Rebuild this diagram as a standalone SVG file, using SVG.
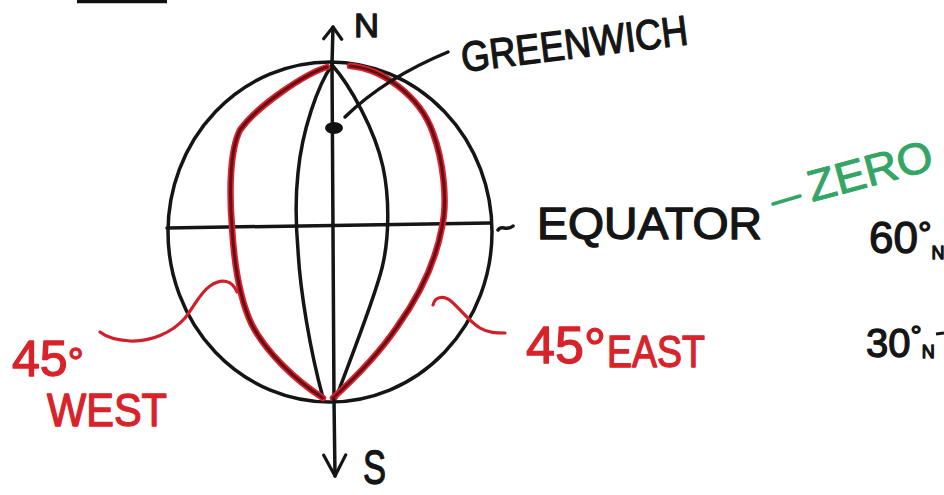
<svg xmlns="http://www.w3.org/2000/svg" width="944" height="495" viewBox="0 0 944 495">
<style>
.ink{fill:none;stroke:#151515;stroke-width:3.5;stroke-linecap:round;stroke-linejoin:round}
.redout{fill:none;stroke:#d8242e;stroke-width:6.5;stroke-linecap:round}
.redin{fill:none;stroke:#6a0e14;stroke-width:3;stroke-linecap:round}
.redlead{fill:none;stroke:#cf2029;stroke-width:3.2;stroke-linecap:round}
.t{font-family:"Liberation Sans","DejaVu Sans",sans-serif;fill:#151515;stroke:#151515;stroke-width:1.3;stroke-linejoin:round}
.tr{font-family:"Liberation Sans","DejaVu Sans",sans-serif;fill:#d8232a;stroke:#d8232a;stroke-width:1.3;stroke-linejoin:round}
.tg{font-family:"Liberation Sans","DejaVu Sans",sans-serif;fill:#35a566;stroke:#35a566;stroke-width:1;stroke-linejoin:round}
</style>
<defs>
<marker id="arrUp" markerUnits="userSpaceOnUse" viewBox="-14 -12 16 24" refX="0" refY="0" markerWidth="16" markerHeight="24" orient="auto">
<path d="M-12,-9 L0,0 L-12,9" fill="none" stroke="#151515" stroke-width="3.2" stroke-linecap="round" stroke-linejoin="round"/>
</marker>
<marker id="arrDown" markerUnits="userSpaceOnUse" viewBox="-24 -14 26 28" refX="0" refY="0" markerWidth="26" markerHeight="28" orient="auto">
<path d="M-21,-11 L0,0 L-21,11" fill="none" stroke="#151515" stroke-width="3.2" stroke-linecap="round" stroke-linejoin="round"/>
</marker>
</defs>
<rect width="944" height="495" fill="#ffffff"/>
<path d="M77,1.5 L167,1.5" stroke="#111" stroke-width="3.5"/>

<g id="globe">
<ellipse class="ink" cx="330" cy="232" rx="162" ry="170"/>
<path class="ink" d="M167,228 L490,223"/>
<path class="ink" d="M332,64 L334,400"/>
<path class="ink" d="M332,65 C318,85 302,130 298,173 C295,200 296,227 298,250 C300,290 310,350 323,398"/>
<path class="ink" d="M332,65 C350,85 375,130 383,167 C390,200 389,240 382,268 C374,300 350,360 336,398"/>
</g>

<g id="meridian-west">
<path class="redout" d="M327,67 C305,74 258,105 240,130 C230,150 229,190 232,227 C234,262 240,300 252,325 C266,352 295,380 323,398"/>
<path class="redin" d="M327,67 C305,74 258,105 240,130 C230,150 229,190 232,227 C234,262 240,300 252,325 C266,352 295,380 323,398"/>
</g>
<g id="meridian-east">
<path class="redout" d="M350,66 C380,68 420,95 433,133 C443,160 448,200 442,227 C436,260 420,295 397,327 C380,352 355,378 333,398"/>
<path class="redin" d="M350,66 C380,68 420,95 433,133 C443,160 448,200 442,227 C436,260 420,295 397,327 C380,352 355,378 333,398"/>
</g>

<g id="greenwich-dot">
<ellipse cx="334" cy="128" rx="9" ry="6" fill="#111"/>
</g>

<g id="connectors">
<path class="ink" d="M332,64 L333,27" marker-end="url(#arrUp)"/>
<path class="ink" d="M334,400 L335,476" marker-end="url(#arrDown)"/>
<path class="ink" d="M345,117 Q385,78 448,52"/>
<path class="ink" d="M498,230 C502,224 506,232 513,226"/>
<path d="M773,204 L800,196" stroke="#35a566" stroke-width="3.5" stroke-linecap="round"/>
<path class="redlead" d="M237,292 C232,280 222,278 210,286 C200,293 195,305 185,318 C172,333 150,342 130,341 C115,340 105,336 100,332"/>
<path class="redlead" d="M433,305 C435,296 444,295 452,302 C462,311 470,322 480,328 C488,333 497,333 505,333"/>
</g>

<g id="label-n"><text class="t" x="354" y="37" font-size="34" textLength="25" lengthAdjust="spacingAndGlyphs">N</text></g>
<g id="label-s"><text class="t" x="363" y="484" font-size="48" textLength="23" lengthAdjust="spacingAndGlyphs">S</text></g>
<g id="label-greenwich"><text class="t" x="463" y="72" font-size="42" textLength="228" lengthAdjust="spacingAndGlyphs" transform="rotate(-7 463 72)">GREENWICH</text></g>
<g id="label-equator"><text class="t" x="537" y="239" font-size="44" textLength="225" lengthAdjust="spacingAndGlyphs">EQUATOR</text></g>
<g id="label-zero"><text class="tg" x="812" y="202" font-size="44" textLength="128" lengthAdjust="spacingAndGlyphs" transform="rotate(-15 812 202)">ZERO</text></g>
<g id="label-60n">
<text class="t" x="869" y="253" font-size="44">60<tspan font-size="34" dy="-8">°</tspan><tspan font-size="18" dy="14">N</tspan></text>
</g>
<g id="label-30n">
<text class="t" x="866" y="357" font-size="40">30<tspan font-size="28" dy="-12">°</tspan><tspan font-size="18" dy="13">N</tspan></text>
<path d="M936,334 L944,333" stroke="#151515" stroke-width="3"/>
</g>
<g id="label-45east">
<text class="tr" x="526" y="363" font-size="52">45<tspan font-size="56" dy="4">°</tspan></text>
<text class="tr" x="607" y="367" font-size="44" textLength="98" lengthAdjust="spacingAndGlyphs">EAST</text>
</g>
<g id="label-45west">
<text class="tr" x="12" y="376" font-size="50">45<tspan font-size="40">°</tspan></text>
<text class="tr" x="47" y="426" font-size="46" textLength="120" lengthAdjust="spacingAndGlyphs">WEST</text>
</g>
</svg>
